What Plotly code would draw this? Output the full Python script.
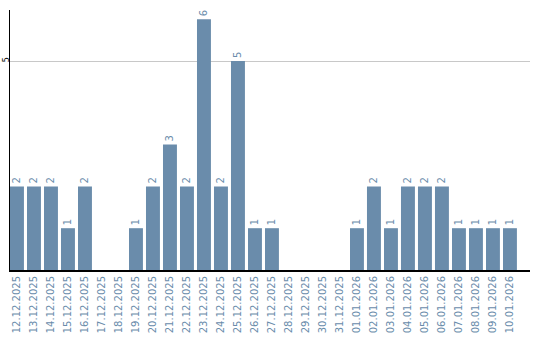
import plotly.graph_objects as go

dates = ["12.12.2025","13.12.2025","14.12.2025","15.12.2025","16.12.2025","17.12.2025",
         "18.12.2025","19.12.2025","20.12.2025","21.12.2025","22.12.2025","23.12.2025",
         "24.12.2025","25.12.2025","26.12.2025","27.12.2025","28.12.2025","29.12.2025",
         "30.12.2025","31.12.2025","01.01.2026","02.01.2026","03.01.2026","04.01.2026",
         "05.01.2026","06.01.2026","07.01.2026","08.01.2026","09.01.2026","10.01.2026"]
counts = [2,2,2,1,2,0,0,1,2,3,2,6,2,5,1,1,0,0,0,0,1,2,1,2,2,2,1,1,1,1]

bar_color = "#6a8cab"
labels = [str(v) if v > 0 else "" for v in counts]

fig = go.Figure(go.Bar(
    x=list(range(len(dates))), y=counts,
    marker=dict(color=bar_color, line=dict(width=0)),
    text=labels, textposition="outside", textangle=-90,
    textfont=dict(family="DejaVu Sans", size=10, color=bar_color),
    cliponaxis=False,
))
fig.update_layout(
    width=540, height=340,
    margin=dict(l=10, r=10, t=10, b=70),
    paper_bgcolor="white", plot_bgcolor="white",
    bargap=0.18, showlegend=False,
    xaxis=dict(
        tickmode="array", tickvals=list(range(len(dates))), ticktext=dates,
        tickangle=-90, range=[-0.41, 30.18], automargin=False,
        tickfont=dict(family="DejaVu Sans", size=10, color=bar_color),
        showline=True, linecolor="black", linewidth=2, showgrid=False,
        ticks="", zeroline=False,
    ),
    yaxis=dict(
        range=[0, 6.22], tickvals=[5], ticktext=["5"], tickangle=-90,
        automargin=False, ticklabelstandoff=-3,
        tickfont=dict(family="DejaVu Sans", size=8, color="black"),
        showgrid=True, gridcolor="#c8c8c8", gridwidth=1,
        showline=True, linecolor="black", linewidth=1,
        ticks="", zeroline=False,
    ),
)
fig.write_html("out.html")
